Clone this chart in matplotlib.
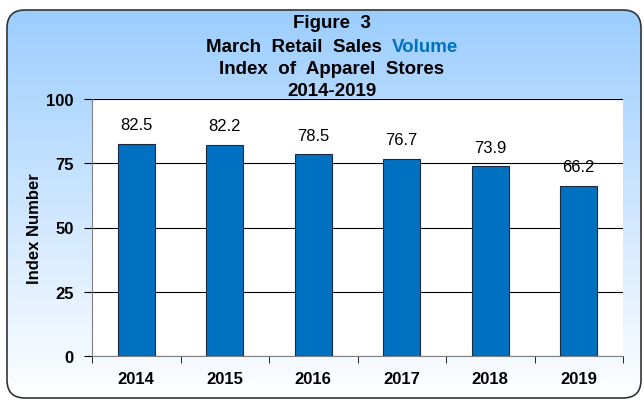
import numpy as np
import matplotlib
matplotlib.use('Agg')
from matplotlib import pyplot as plt
from matplotlib.patches import FancyBboxPatch

# data
years = ['2014', '2015', '2016', '2017', '2018', '2019']
index_values = [82.5, 82.2, 78.5, 76.7, 73.9, 66.2]
y_ticks = [0, 25, 50, 75, 100]

BLUE = '#0070C0'
plt.rcParams['font.family'] = ['Liberation Sans', 'DejaVu Sans']

W, H = 644, 402
fig = plt.figure(figsize=(W / 100, H / 100), dpi=100)
fig.patch.set_facecolor('white')

# background panel: rounded box, light blue -> white gradient
bg = fig.add_axes([0, 0, 1, 1], zorder=-1)
bg.set_xlim(0, W)
bg.set_ylim(H, 0)
bg.axis('off')
grad = np.linspace(0, 1, 256).reshape(-1, 1)
top = np.array([153, 204, 255]) / 255
bot = np.array([255, 255, 255]) / 255
img = top + (bot - top) * grad[..., None]
im = bg.imshow(img, extent=[0, W, H, 0], aspect='auto')
box = FancyBboxPatch((7, 11), 634, 388, boxstyle='round,pad=0,rounding_size=18',
                     fc='none', ec='#333333', lw=1.2)
bg.add_patch(box)
im.set_clip_path(box)

# title (wide spacing like the original)
cx = 332
fs_t = 13.5
fig.text(cx / W, 1 - 23 / H, 'Figure  3', ha='center', va='center',
         fontsize=fs_t, fontweight='bold')
t1 = fig.text(cx / W, 1 - 47 / H, 'March  Retail  Sales  ', ha='right', va='center',
              fontsize=fs_t, fontweight='bold')
fig.canvas.draw()
r = fig.canvas.get_renderer()
w1 = t1.get_window_extent(r).width
t2 = fig.text(0, 1 - 47 / H, 'Volume', va='center', fontsize=fs_t,
              fontweight='bold', color=BLUE)
w2 = t2.get_window_extent(r).width
left = cx - (w1 + w2) / 2
t1.set_ha('left')
t1.set_x(left / W)
t2.set_x((left + w1) / W)
fig.text(cx / W, 1 - 70 / H, 'Index  of  Apparel  Stores', ha='center', va='center',
         fontsize=fs_t, fontweight='bold')
fig.text(cx / W, 1 - 91 / H, '2014-2019', ha='center', va='center',
         fontsize=fs_t, fontweight='bold')

# main plot
ax = fig.add_axes([92 / W, 1 - 357 / H, (623 - 92) / W, (357 - 100) / H])
ax.set_facecolor('white')
x = np.arange(len(years))
ax.bar(x, index_values, width=0.42, color=BLUE, edgecolor='#1a2a40', lw=0.8, zorder=3)
for xi, v in zip(x, index_values):
    ax.text(xi, v + 4.5, '%.1f' % v, ha='center', va='bottom', fontsize=12)

ax.set_ylim(0, 100)
ax.set_xlim(-0.5, len(years) - 0.5)
ax.set_yticks(y_ticks)
ax.yaxis.grid(True, color='black', lw=0.8, zorder=0)
ax.set_axisbelow(True)
ax.set_xticks(x)
ax.set_xticklabels(years, fontweight='bold', fontsize=12)
ax.set_xticks(np.arange(-0.5, len(years)), minor=True)
ax.tick_params(axis='x', which='major', length=0, pad=11)
ax.tick_params(axis='x', which='minor', length=5, direction='out', color='black')
ax.tick_params(axis='y', length=6, direction='out', pad=7, labelsize=12)
for lab in ax.get_yticklabels():
    lab.set_fontweight('bold')
for s in ['top', 'right']:
    ax.spines[s].set_visible(False)
ax.spines['left'].set_color('#808080')
ax.spines['bottom'].set_color('#808080')
ax.set_ylabel('Index Number', fontsize=12, fontweight='bold')
ax.yaxis.set_label_coords(-(92 - 42) / (623 - 92), 0.5)

fig.savefig('out.png', dpi=100)
